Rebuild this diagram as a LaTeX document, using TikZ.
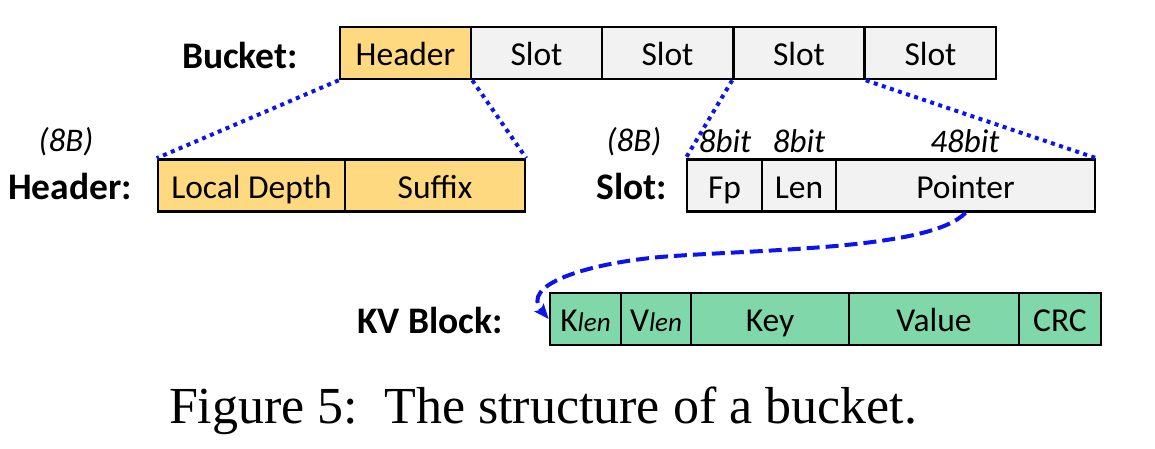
\documentclass[tikz,border=0pt]{standalone}
\usepackage{fontspec}
\setmainfont{Carlito}
\newfontfamily\capfont{Liberation Serif}
\usetikzlibrary{arrows.meta}
\definecolor{hdrY}{HTML}{FFD97F}
\definecolor{slotG}{HTML}{F2F2F2}
\definecolor{kvG}{HTML}{80D8AA}
\definecolor{lnB}{HTML}{0A14F0}
\begin{document}
\begin{tikzpicture}[x=1pt,y=-1pt,
  cell/.style={draw=black,line width=2.6pt,inner sep=0pt,minimum height=52pt,
    font=\fontsize{33.5}{33.5}\selectfont,text height=28pt,text depth=2.4pt},
  ycell/.style={cell,fill=hdrY},
  gcell/.style={cell,fill=slotG},
  kcell/.style={cell,fill=kvG},
  lbl/.style={font=\fontsize{37.5}{37.5}\selectfont\bfseries,inner sep=0pt,anchor=base east},
  itl/.style={font=\fontsize{33}{33}\selectfont\itshape,inner sep=0pt,anchor=base},
  dotl/.style={draw=lnB,line width=4pt,dash pattern=on 4pt off 4.5pt},
  dashl/.style={draw=lnB,line width=4pt,dash pattern=on 13pt off 6pt,
    -{Stealth[length=15pt,width=12pt,inset=3pt]}}]
\useasboundingbox (0,0) rectangle (1155,448);
% bucket row
\node[ycell,minimum width=131pt] (bh) at (405.5,53) {Header};
\node[gcell,minimum width=131pt] (s1) at (536.5,53) {Slot};
\node[gcell,minimum width=131pt] (s2) at (667.5,53) {Slot};
\node[gcell,minimum width=131pt] (s3) at (799,53) {Slot};
\node[gcell,minimum width=131pt] (s4) at (930.5,53) {Slot};
\node[lbl] (lb) at (298,68) {Bucket:};
% header row
\node[ycell,minimum width=187pt] (ld) at (251.5,185.5) {Local Depth};
\node[ycell,minimum width=180pt] (sf) at (435,185.5) {Suffix};
\node[lbl] (lh) at (132,199) {Header:};
\node[itl] (hb) at (66,151) {(8B)};
% slot row
\node[gcell,minimum width=75pt] (fp) at (724.5,185.5) {Fp};
\node[gcell,minimum width=74pt] (ln) at (799,185.5) {Len};
\node[gcell,minimum width=259pt] (pt) at (965.5,185.5) {Pointer};
\node[lbl] (ls) at (667,199) {Slot:};
\node[itl] (sb) at (634,151) {(8B)};
\node[itl] (b1) at (725,152) {8bit};
\node[itl] (b2) at (799,152) {8bit};
\node[itl] (b3) at (965,152) {48bit};
% kv row
\node[kcell,minimum width=71pt] (kl) at (585.5,319) {K{\itshape\fontsize{27}{27}\selectfont len}};
\node[kcell,minimum width=70pt] (vl) at (656,319) {V{\itshape\fontsize{27}{27}\selectfont len}};
\node[kcell,minimum width=158pt] (ky) at (770,319) {Key};
\node[kcell,minimum width=170pt] (vv) at (934,319) {Value};
\node[kcell,minimum width=82pt] (cr) at (1060,319) {CRC};
\node[lbl] (lk) at (503,333) {KV Block:};
% dotted connectors
\draw[dotl] (bh.south west) -- (ld.north west);
\draw[dotl] (bh.south east) -- (sf.north east);
\draw[dotl] (s3.south west) -- (fp.north west);
\draw[dotl] (s3.south east) -- (pt.north east);
% dashed arrow
\coordinate (mid) at (660,257);
\draw[dashl] (pt.south) .. controls (930,250) and (760,249) .. (mid)
  .. controls (585,264) and (520,285) .. (kl.west);
% caption
\node[font=\capfont\fontsize{52}{52}\selectfont,inner sep=0pt,anchor=base] (cap) at (543,423) {Figure 5:\ \ The structure of a bucket.};
\end{tikzpicture}
\end{document}
